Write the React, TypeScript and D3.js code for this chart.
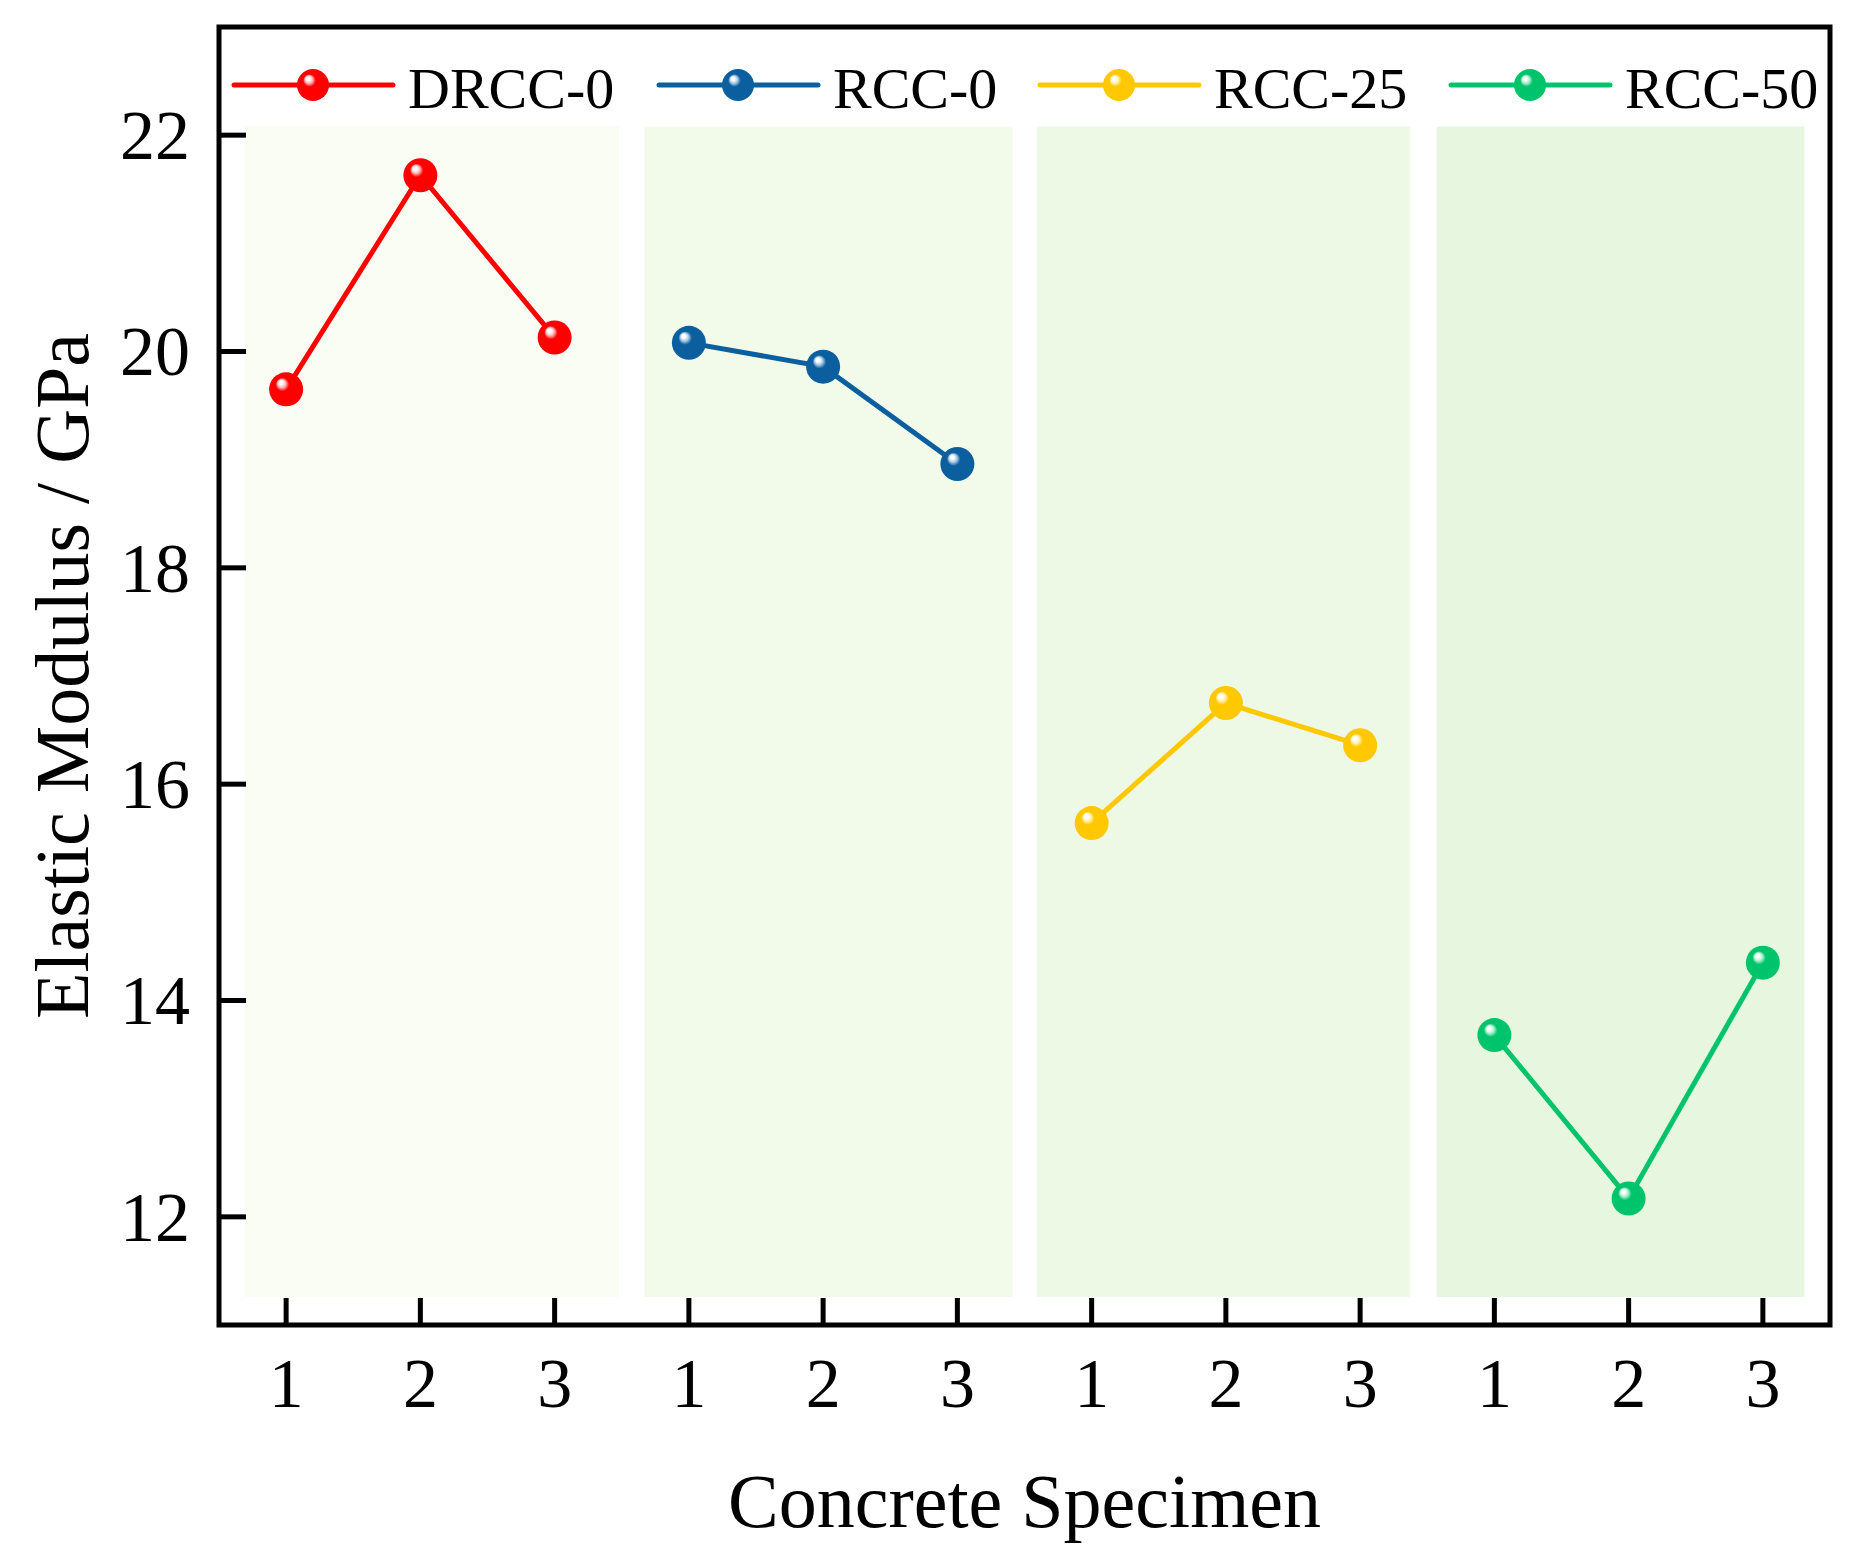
import * as d3 from "d3";
import React, { useEffect, useRef } from "react";

// values (GPa)
const groups = ["DRCC-0", "RCC-0", "RCC-25", "RCC-50"];
const specimens = ["1", "2", "3"];
const drcc0 = [19.65, 21.63, 20.13];
const rcc0 = [20.08, 19.86, 18.96];
const rcc25 = [15.64, 16.75, 16.36];
const rcc50 = [13.68, 12.17, 14.35];
const yTicks = [12, 14, 16, 18, 20, 22];

const colors = ["#ff0000", "#0b5f9f", "#ffc800", "#00c46b"];
const highlights = ["#ffb3b3", "#a9c8e6", "#fff0a8", "#a8f0cc"];
const panelFills = ["#f9fdf4", "#f2faea", "#edf8e5", "#e6f6df"];

const W = 1859;
const H = 1565;
const left = 219;
const right = 1830;
const top = 27;
const bottom = 1325;
const legendX = [234, 659, 1040, 1451];
// background panel spans, in x-index units
const panelSpans = [
  [-0.31, 2.48],
  [2.67, 5.41],
  [5.59, 8.37],
  [8.57, 11.31],
];

const App: React.FC = () => {
  const svgRef = useRef<SVGSVGElement>(null);

  useEffect(() => {
    if (!svgRef.current) return;
    const svg = d3.select(svgRef.current);
    svg.selectAll("*").remove();

    const series = [drcc0, rcc0, rcc25, rcc50];
    const font = "'Liberation Serif', 'Times New Roman', serif";

    const x = d3.scaleLinear().domain([-0.5, 11.5]).range([left, right]);
    const y = d3.scaleLinear().domain([11, 23]).range([bottom, top]);

    // glossy marker gradients
    const defs = svg.append("defs");
    colors.forEach((c, i) => {
      const g = defs
        .append("radialGradient")
        .attr("id", "ball" + i)
        .attr("cx", "0.5")
        .attr("cy", "0.5")
        .attr("r", "0.55")
        .attr("fx", "0.33")
        .attr("fy", "0.28");
      g.append("stop").attr("offset", "0%").attr("stop-color", "#ffffff");
      g.append("stop").attr("offset", "10%").attr("stop-color", "#ffffff");
      g.append("stop").attr("offset", "22%").attr("stop-color", highlights[i]);
      g.append("stop").attr("offset", "36%").attr("stop-color", c);
      g.append("stop").attr("offset", "100%").attr("stop-color", c);
    });

    // shaded group panels
    svg
      .append("g")
      .selectAll("rect")
      .data(panelSpans)
      .enter()
      .append("rect")
      .attr("x", (d) => x(d[0]))
      .attr("width", (d) => x(d[1]) - x(d[0]))
      .attr("y", y(22.08))
      .attr("height", y(11.26) - y(22.08))
      .attr("fill", (_, i) => panelFills[i]);

    // lines + markers
    const line = d3
      .line<number>()
      .x((_, j) => x(j))
      .y((d) => y(d));

    series.forEach((vals, i) => {
      const g = svg.append("g").attr("transform", `translate(${x(3 * i) - x(0)},0)`);
      g.append("path")
        .attr("d", line(vals))
        .attr("fill", "none")
        .attr("stroke", colors[i])
        .attr("stroke-width", 5);
      g.selectAll("circle")
        .data(vals)
        .enter()
        .append("circle")
        .attr("cx", (_, j) => x(j))
        .attr("cy", (d) => y(d))
        .attr("r", 17)
        .attr("fill", `url(#ball${i})`);
    });

    // frame
    svg
      .append("rect")
      .attr("x", left)
      .attr("y", top)
      .attr("width", right - left)
      .attr("height", bottom - top)
      .attr("fill", "none")
      .attr("stroke", "#000")
      .attr("stroke-width", 5);

    // y axis (inward ticks)
    const yAxis = svg.append("g").attr("font-family", font);
    yTicks.forEach((t) => {
      yAxis
        .append("line")
        .attr("x1", left)
        .attr("x2", left + 27)
        .attr("y1", y(t))
        .attr("y2", y(t))
        .attr("stroke", "#000")
        .attr("stroke-width", 5);
      yAxis
        .append("text")
        .attr("x", 190)
        .attr("y", y(t))
        .attr("dy", "0.34em")
        .attr("text-anchor", "end")
        .attr("font-size", 70)
        .text(String(t));
    });

    // x axis
    const xAxis = svg.append("g").attr("font-family", font);
    d3.range(groups.length * specimens.length).forEach((k) => {
      xAxis
        .append("line")
        .attr("x1", x(k))
        .attr("x2", x(k))
        .attr("y1", bottom)
        .attr("y2", bottom - 27)
        .attr("stroke", "#000")
        .attr("stroke-width", 5);
      xAxis
        .append("text")
        .attr("x", x(k))
        .attr("y", 1407)
        .attr("text-anchor", "middle")
        .attr("font-size", 70)
        .text(specimens[k % specimens.length]);
    });

    // axis titles
    svg
      .append("text")
      .attr("x", (left + right) / 2)
      .attr("y", 1527)
      .attr("text-anchor", "middle")
      .attr("font-family", font)
      .attr("font-size", 76)
      .text("Concrete Specimen");

    svg
      .append("text")
      .attr("transform", `translate(88,${(top + bottom) / 2}) rotate(-90)`)
      .attr("text-anchor", "middle")
      .attr("font-family", font)
      .attr("font-size", 76)
      .text("Elastic Modulus / GPa");

    // legend
    const legend = svg.append("g").attr("font-family", font);
    groups.forEach((name, i) => {
      const lx = legendX[i];
      legend
        .append("line")
        .attr("x1", lx)
        .attr("x2", lx + 159)
        .attr("y1", 85)
        .attr("y2", 85)
        .attr("stroke", colors[i])
        .attr("stroke-width", 5)
        .attr("stroke-linecap", "round");
      legend
        .append("circle")
        .attr("cx", lx + 79)
        .attr("cy", 85)
        .attr("r", 16)
        .attr("fill", `url(#ball${i})`);
      legend
        .append("text")
        .attr("x", lx + 174)
        .attr("y", 108)
        .attr("font-size", 58)
        .text(name);
    });
  }, []);

  return (
    <svg
      ref={svgRef}
      width={W}
      height={H}
      style={{ position: "absolute", left: 0, top: 0, background: "#fff" }}
    />
  );
};

export default App;
